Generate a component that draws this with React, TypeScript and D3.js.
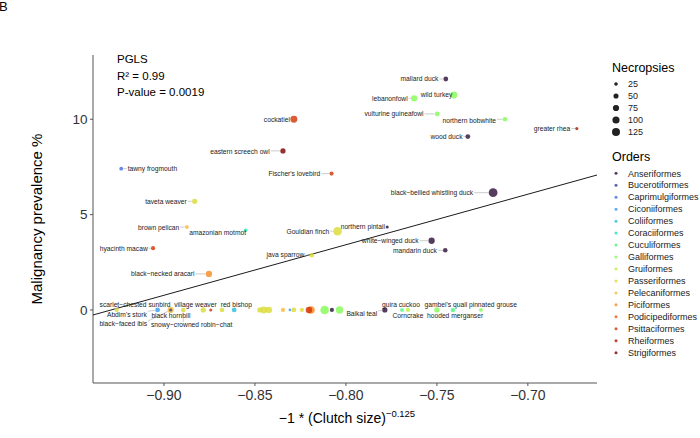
import React from 'react';
import * as d3 from 'd3';

const orders = ["Anseriformes","Bucerotiformes","Caprimulgiformes","Ciconiiformes","Coliiformes","Coraciiformes","Cuculiformes","Galliformes","Gruiformes","Passeriformes","Pelecaniformes","Piciformes","Podicipediformes","Psittaciformes","Rheiformes","Strigiformes"];
const turboAnchors = ["#30123B","#4662D7","#36AAF9","#1AE4B6","#72FE5E","#C7EF34","#FABA39","#F66B19","#CB2A04","#7A0403"];

const species = [
  "mallard duck","wild turkey","lebanonfowl","vulturine guineafowl","northern bobwhite","wood duck","greater rhea",
  "cockatiel","eastern screech owl","tawny frogmouth","Fischer's lovebird","taveta weaver","brown pelican","amazonian motmot",
  "Gouldian finch","hyacinth macaw","black−necked aracari","java sparrow","northern pintail","white−winged duck","mandarin duck",
  "black−bellied whistling duck",
  "scarlet−chested sunbird","Abdim's stork","black−faced ibis","black hornbill","snowy−crowned robin−chat","village weaver","",
  "red bishop","","","","","","","","","","","","","",
  "Baikal teal","guira cuckoo","Corncrake","gambel's quail","hooded merganser","pinnated grouse"
];
const clutchX = [
  -0.7451,-0.7407,-0.7625,-0.7498,-0.7126,-0.7330,-0.6731,
  -0.8286,-0.8346,-0.9235,-0.8079,-0.8831,-0.8874,-0.8551,
  -0.8046,-0.9060,-0.8753,-0.8187,-0.7773,-0.7529,-0.7454,
  -0.7191,
  -0.9260,-0.9035,-0.8963,-0.8963,-0.8894,-0.8784,-0.8743,
  -0.8681,-0.8614,-0.8473,-0.8451,-0.8423,-0.8346,-0.8308,-0.8286,-0.8242,-0.8192,-0.8203,-0.8117,-0.8077,-0.8035,
  -0.7786,-0.7692,-0.7659,-0.7500,-0.7412,-0.7258
];
const prevalence = [
  12.11,11.27,11.10,10.28,10.00,9.09,9.51,
  10.00,8.34,7.41,7.15,5.70,4.35,4.18,
  4.13,3.24,1.89,2.87,4.35,3.63,3.13,
  6.15,
  0,0,0,0,0,0,0,
  0,0,0,0,0,0,0,0,0,0,0,0,0,0,
  0,0,0,0,0,0
];
const necropsies = [
  45,93,77,45,41,45,19,
  93,53,28,34,53,28,23,
  145,34,77,41,19,77,41,
  150,
  34,45,77,19,41,53,19,
  41,45,53,93,77,34,14,45,34,110,85,145,34,105,
  53,28,34,53,41,28
];
const speciesOrder = [
  "Anseriformes","Galliformes","Galliformes","Galliformes","Galliformes","Anseriformes","Rheiformes",
  "Psittaciformes","Strigiformes","Caprimulgiformes","Psittaciformes","Passeriformes","Pelecaniformes","Coraciiformes",
  "Passeriformes","Psittaciformes","Piciformes","Passeriformes","Anseriformes","Anseriformes","Anseriformes",
  "Anseriformes",
  "Passeriformes","Ciconiiformes","Pelecaniformes","Bucerotiformes","Passeriformes","Passeriformes","Psittaciformes",
  "Passeriformes","Coliiformes","Passeriformes","Passeriformes","Passeriformes","Pelecaniformes","Ciconiiformes","Passeriformes","Passeriformes","Piciformes","Psittaciformes","Galliformes","Anseriformes","Galliformes",
  "Anseriformes","Cuculiformes","Gruiformes","Galliformes","Cuculiformes","Galliformes"
];

const xTicks = [-0.90,-0.85,-0.80,-0.75,-0.70];
const yTicks = [0,5,10];
const sizeBreaks = [25,50,75,100,125];
const fitIntercept = 24.62;
const fitSlope = 26.5;
const statLines = ["PGLS","R² = 0.99","P-value = 0.0019"];

// label layout (pixel offsets of label centre from its point)
const labelOffsets: Record<string, [number, number]> = {
  "mallard duck": [-26.3, 0], "wild turkey": [-17.3, -0.3], "lebanonfowl": [-24.3, 0],
  "vulturine guineafowl": [-43.2, 0], "northern bobwhite": [-35.7, 1], "wood duck": [-21.3, 0.3],
  "greater rhea": [-24.8, 0.3], "cockatiel": [-17, 0.4], "eastern screech owl": [-43, 0.3],
  "tawny frogmouth": [31.2, 0.3], "Fischer's lovebird": [-37.2, 0.3], "taveta weaver": [-28.7, 0.4],
  "brown pelican": [-28.3, 0.3], "amazonian motmot": [-28, 2.4], "Gouldian finch": [-29.7, 0.4],
  "hyacinth macaw": [-29.3, 0.4], "black−necked aracari": [-46.1, 0], "java sparrow": [-26.5, -0.3],
  "northern pintail": [-24.4, -0.7], "white−winged duck": [-41.4, 0], "mandarin duck": [-30.3, 0.4],
  "black−bellied whistling duck": [-61.1, 0.3],
  "scarlet−chested sunbird": [18.3, -5.3], "Abdim's stork": [-30.7, 4.3], "black hornbill": [0.2, 5.7],
  "black−faced ibis": [-47.4, 14], "snowy−crowned robin−chat": [8.4, 15], "village weaver": [-7.8, -5.3],
  "red bishop": [14.3, -5.3], "guira cuckoo": [-1, -5.3], "gambel's quail": [9, -5.3],
  "pinnated grouse": [12, -5.3], "Baikal teal": [-23, 4], "Corncrake": [0, 5.3], "hooded merganser": [2.2, 5.3],
};

const FONT = '"Liberation Sans", Arial, Helvetica, sans-serif';
const LABEL_FS = 6.7;

let measureCtx: CanvasRenderingContext2D | null = null;
function textWidth(t: string, fs: number) {
  if (!measureCtx) measureCtx = document.createElement('canvas').getContext('2d');
  if (!measureCtx) return t.length * fs * 0.5;
  measureCtx.font = `${fs}px ${FONT}`;
  return measureCtx.measureText(t).width;
}

export default function App() {
  const x = d3.scaleLinear().domain([-0.939, -0.662]).range([93, 597]);
  const y = d3.scaleLinear().domain([-3.83, 13.37]).range([383, 55]);
  const r = d3.scaleSqrt().domain([0, 150]).range([0, 4.4]);
  const color = d3.scaleOrdinal<string, string>()
    .domain(orders)
    .range(d3.quantize(d3.piecewise(d3.interpolateRgb, turboAnchors), orders.length));

  const pts = species.map((s, i) => ({
    name: s, px: x(clutchX[i]), py: y(prevalence[i]), rad: r(necropsies[i]), c: color(speciesOrder[i]),
  }));

  const line = d3.line<number>().x(d => x(d)).y(d => y(fitIntercept + fitSlope * d));
  const [x0, x1] = x.domain();

  const labels = pts.filter(p => p.name && labelOffsets[p.name]).map(p => {
    const [dx, dy] = labelOffsets[p.name];
    const cx = p.px + dx, cy = p.py + dy;
    const w = textWidth(p.name, LABEL_FS);
    const h = 6;
    const bx = Math.max(cx - w / 2 - 1, Math.min(p.px, cx + w / 2 + 1));
    const by = Math.max(cy - h / 2, Math.min(p.py, cy + h / 2));
    const len = Math.hypot(p.px - bx, p.py - by);
    let seg: null | [number, number, number, number] = null;
    if (len > p.rad + 1.5) {
      const ux = (p.px - bx) / len, uy = (p.py - by) / len;
      const end = len - p.rad - 0.3;
      seg = [bx, by, bx + ux * end, by + uy * end];
    }
    return { ...p, cx, cy, seg };
  });

  return (
    <svg width={700} height={438} style={{ position: 'absolute', left: 0, top: 0, background: '#fff' }} fontFamily={FONT}>
      <text x={-1} y={11} fontSize={13} fill="#000">B</text>

      {/* axes */}
      <line x1={93} x2={93} y1={55} y2={383} stroke="#555" strokeWidth={1} />
      <line x1={93} x2={597} y1={383} y2={383} stroke="#555" strokeWidth={1} />
      {yTicks.map(t => (
        <g key={'y' + t}>
          <line x1={90} x2={93} y1={y(t)} y2={y(t)} stroke="#555" />
          <text x={87.5} y={y(t) + 4.8} fontSize={13.5} textAnchor="end" fill="#333">{t}</text>
        </g>
      ))}
      {xTicks.map(t => (
        <g key={'x' + t}>
          <line x1={x(t)} x2={x(t)} y1={383} y2={386} stroke="#555" />
          <text x={x(t)} y={400} fontSize={14} textAnchor="middle" fill="#333">{d3.format('.2f')(t).replace('-', '−')}</text>
        </g>
      ))}
      <text transform="translate(42,219) rotate(-90)" fontSize={15} textAnchor="middle" fill="#000">Malignancy prevalence %</text>
      <text x={347} y={423} fontSize={14} textAnchor="middle" fill="#000">
        −1 * (Clutch size)<tspan fontSize={9.5} dy={-6}>−0.125</tspan>
      </text>

      {/* stats */}
      {statLines.map((s, i) => (
        <text key={s} x={117} y={63.3 + i * 16.3} fontSize={11.5} fill="#000">{s}</text>
      ))}

      {/* fit line */}
      <path d={line([x0, x1]) || ''} stroke="#000" strokeWidth={0.9} fill="none" />

      {/* points */}
      {pts.map((p, i) => (
        <circle key={i} cx={p.px} cy={p.py} r={p.rad} fill={p.c} fillOpacity={0.82} />
      ))}

      {/* labels */}
      {labels.map((l, i) => (
        <g key={'l' + i}>
          {l.seg && <line x1={l.seg[0]} y1={l.seg[1]} x2={l.seg[2]} y2={l.seg[3]} stroke="#999" strokeWidth={0.5} />}
          <text x={l.cx} y={l.cy + 2.4} fontSize={LABEL_FS} textAnchor="middle" fill="#222">{l.name}</text>
        </g>
      ))}

      {/* size legend */}
      <text x={612} y={72} fontSize={12.5} fill="#000">Necropsies</text>
      {sizeBreaks.map((b, i) => (
        <g key={'s' + b}>
          <circle cx={616} cy={84 + i * 12} r={r(b)} fill="#222" />
          <text x={628} y={84 + i * 12 + 3.2} fontSize={9} fill="#222">{b}</text>
        </g>
      ))}

      {/* color legend */}
      <text x={612} y={161} fontSize={12.5} fill="#000">Orders</text>
      {orders.map((o, i) => (
        <g key={o}>
          <circle cx={616} cy={173.3 + i * 11.96} r={1.5} fill={color(o)} fillOpacity={0.82} />
          <text x={628} y={173.3 + i * 11.96 + 3.2} fontSize={9} fill="#222">{o}</text>
        </g>
      ))}
    </svg>
  );
}
